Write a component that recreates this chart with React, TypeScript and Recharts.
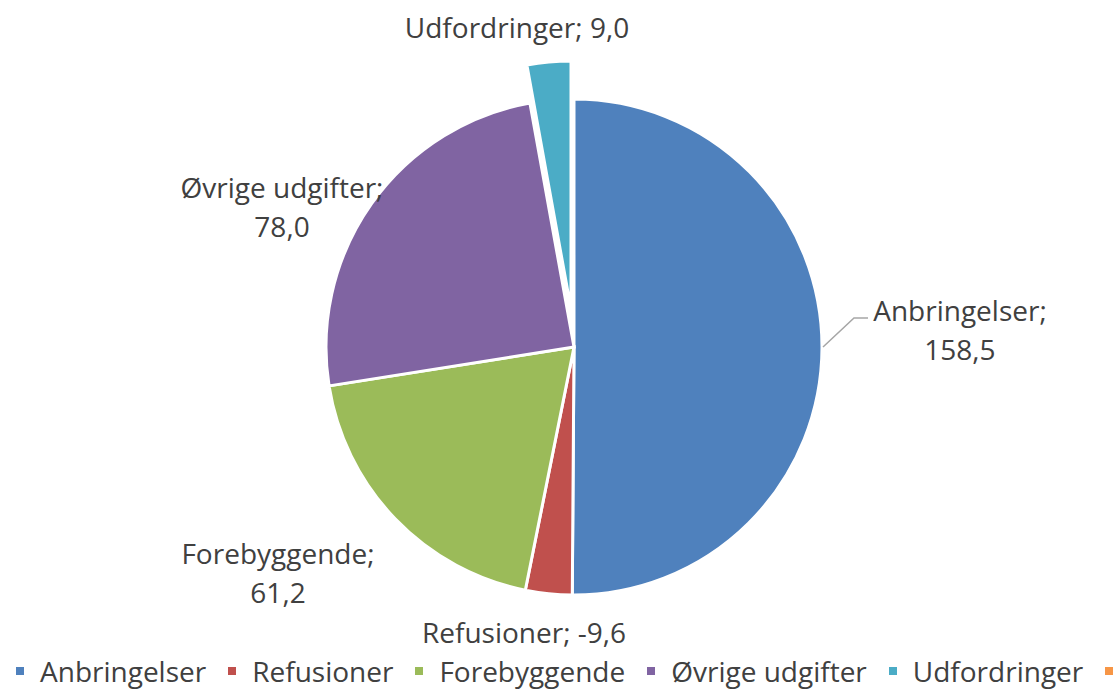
import React from "react";
import { PieChart, Pie, Cell, Legend } from "recharts";

const categories = [
  "Anbringelser",
  "Refusioner",
  "Forebyggende",
  "Øvrige udgifter",
  "Udfordringer",
  "",
];
const values = [158.5, -9.6, 61.2, 78.0, 9.0, 0];
const COLORS = ["#4F81BD", "#C0504D", "#9BBB59", "#8064A2", "#4BACC6", "#F79646"];
const EXPLODED = "Udfordringer";

// label placement relative to the pie centre, one entry per slice
const LABEL_OFFSETS = [
  { dx: 386, dy: -37, split: true },
  { dx: -50, dy: 285, split: false },
  { dx: -296, dy: 206, split: true },
  { dx: -292, dy: -160, split: true },
  { dx: -57, dy: -320, split: false },
  null,
];

const TEXT = "#404040";
const FONT = "'Open Sans', sans-serif";
const FS = 28;
const LINE = 39;

const data = categories.map((name, i) => ({
  name,
  value: Math.abs(values[i]),
  raw: values[i],
}));

const fmt = (v: number) => v.toFixed(1).replace(".", ",");

const renderLabel = (props: any) => {
  const { cx, cy, index, outerRadius } = props;
  const pos = LABEL_OFFSETS[index];
  if (!pos) return null;
  const d = data[index];
  const x = cx + pos.dx;
  const y = cy + pos.dy;
  const line1 = pos.split ? `${d.name};` : `${d.name}; ${fmt(d.raw)}`;
  return (
    <g key={`lbl-${index}`}>
      {index === 0 && (
        <polyline
          points={`${cx + outerRadius + 1},${cy} ${cx + outerRadius + 32},${cy - 29} ${cx + outerRadius + 46},${cy - 29}`}
          fill="none"
          stroke="#A6A6A6"
          strokeWidth={1.5}
        />
      )}
      <text
        x={x}
        y={y}
        textAnchor="middle"
        dominantBaseline="central"
        fill={TEXT}
        fontSize={FS}
        fontFamily={FONT}
      >
        {line1}
      </text>
      {pos.split && (
        <text
          x={x}
          y={y + LINE}
          textAnchor="middle"
          dominantBaseline="central"
          fill={TEXT}
          fontSize={FS}
          fontFamily={FONT}
        >
          {fmt(d.raw)}
        </text>
      )}
    </g>
  );
};

const renderLegend = () => (
  <div
    style={{
      display: "flex",
      whiteSpace: "nowrap",
      fontFamily: FONT,
      fontSize: FS,
      color: TEXT,
      paddingLeft: 16,
      alignItems: "center",
      lineHeight: "34px",
    }}
  >
    {categories.map((name, i) => (
      <div
        key={`leg-${i}`}
        style={{ display: "flex", alignItems: "center", marginRight: 22 }}
      >
        <span
          style={{
            display: "inline-block",
            width: 8,
            height: 8,
            background: COLORS[i],
            marginRight: 16,
          }}
        />
        {name && <span>{name}</span>}
      </div>
    ))}
  </div>
);

export default function App() {
  return (
    <div
      style={{
        position: "absolute",
        left: 0,
        top: 0,
        width: 1113,
        height: 691,
        overflow: "hidden",
        background: "#fff",
      }}
    >
      <PieChart width={1113} height={691} margin={{ top: 0, right: 0, bottom: 0, left: 0 }}>
        <Pie
          data={data}
          dataKey="value"
          nameKey="name"
          cx={574}
          cy={347}
          outerRadius={248}
          startAngle={90}
          endAngle={-270}
          stroke="#fff"
          strokeWidth={3}
          label={renderLabel}
          labelLine={false}
          isAnimationActive={false}
        >
          {data.map((d, i) => (
            <Cell
              key={`c-${i}`}
              fill={d.name === EXPLODED ? "none" : COLORS[i]}
              stroke={d.name === EXPLODED ? "none" : "#fff"}
            />
          ))}
        </Pie>
        <Pie
          data={data}
          dataKey="value"
          nameKey="name"
          cx={571}
          cy={309}
          outerRadius={248}
          startAngle={90}
          endAngle={-270}
          legendType="none"
          isAnimationActive={false}
        >
          {data.map((d, i) => (
            <Cell
              key={`e-${i}`}
              fill={d.name === EXPLODED ? COLORS[i] : "none"}
              stroke={d.name === EXPLODED ? "#fff" : "none"}
              strokeWidth={3}
            />
          ))}
        </Pie>
        <Legend
          content={renderLegend}
          wrapperStyle={{ position: "absolute", left: 0, top: 654, width: 1113 }}
        />
      </PieChart>
    </div>
  );
}
